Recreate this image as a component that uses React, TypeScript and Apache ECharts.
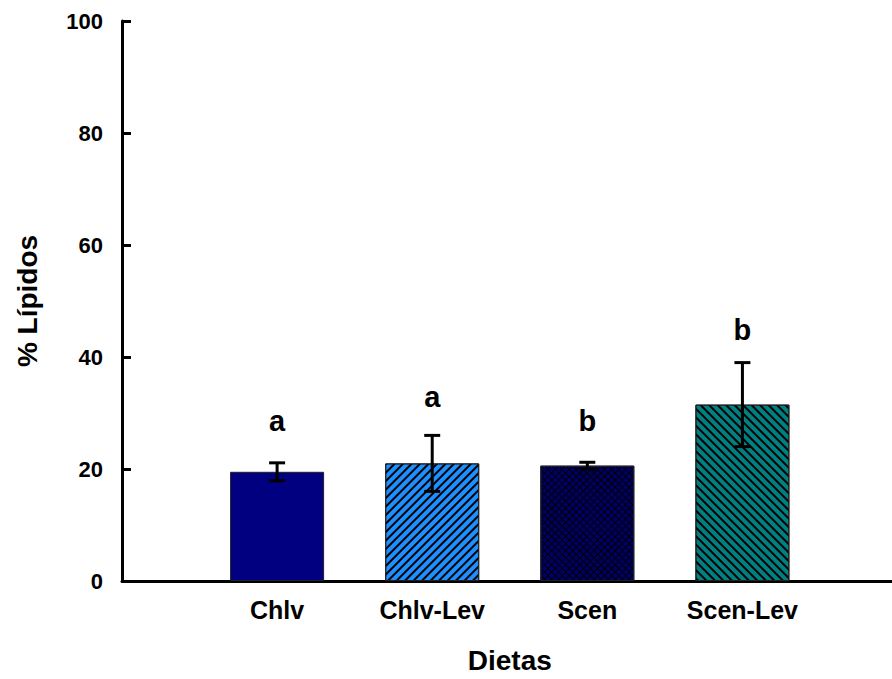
import React, { useEffect, useRef } from "react";
import * as echarts from "echarts";

const categories = ["Chlv", "Chlv-Lev", "Scen", "Scen-Lev"];
const means = [19.5, 21.0, 20.6, 31.5];
const errors = [1.6, 5.0, 0.6, 7.5];
const letters = ["a", "a", "b", "b"];
const letterValues = [28.6, 32.9, 28.5, 44.9];
const yTicks = [0, 20, 40, 60, 80, 100];

const FONT = "'Liberation Sans', Arial, sans-serif";

export default function App() {
  const ref = useRef<HTMLDivElement>(null);
  useEffect(() => {
    if (!ref.current) return;
    const chart = echarts.init(ref.current, undefined, { renderer: "svg" });
    const xData = ["", ...categories, " "];
    const styles = [
      { color: "#000080" },
      {
        color: "#1E8FFF",
        decal: {
          symbol: "rect",
          symbolSize: 1,
          dashArrayX: [1, 0],
          dashArrayY: [1.6, 3.4],
          rotation: -Math.PI / 4,
          color: "#000",
        },
      },
      {
        color: "#000",
        decal: {
          symbol: "rect",
          symbolSize: 1,
          dashArrayX: [4, 1],
          dashArrayY: [4, 1],
          rotation: Math.PI / 4,
          color: "#000068",
        },
      },
      {
        color: "#008080",
        decal: {
          symbol: "rect",
          symbolSize: 1,
          dashArrayX: [1, 0],
          dashArrayY: [1.6, 3.4],
          rotation: Math.PI / 4,
          color: "#000",
        },
      },
    ];
    chart.setOption({
      animation: false,
      grid: { left: 122, right: 0, top: 21, bottom: 94, containLabel: false },
      xAxis: {
        type: "category",
        data: xData,
        boundaryGap: false,
        name: "Dietas",
        nameLocation: "middle",
        nameGap: 65,
        nameTextStyle: { fontFamily: FONT, fontWeight: "bold", fontSize: 28, color: "#000" },
        axisLine: { lineStyle: { color: "#000", width: 3 } },
        axisTick: { show: false },
        axisLabel: {
          fontFamily: FONT,
          fontWeight: "bold",
          fontSize: 25,
          color: "#000",
          margin: 16,
          interval: 0,
        },
        splitLine: { show: false },
      },
      yAxis: {
        type: "value",
        min: yTicks[0],
        max: yTicks[yTicks.length - 1],
        interval: 20,
        name: "% Lípidos",
        nameLocation: "middle",
        nameGap: 81,
        nameTextStyle: { fontFamily: FONT, fontWeight: "bold", fontSize: 28, color: "#000" },
        axisLine: { show: true, lineStyle: { color: "#000", width: 3 } },
        axisTick: { show: true, inside: true, length: 9, lineStyle: { color: "#000", width: 3 } },
        axisLabel: { fontFamily: FONT, fontWeight: "bold", fontSize: 22, color: "#000", margin: 19 },
        splitLine: { show: false },
      },
      series: [
        {
          type: "bar",
          barWidth: 94,
          data: categories.map((c, i) => ({
            value: [c, means[i]],
            itemStyle: { ...styles[i], borderColor: "#222", borderWidth: 1 },
          })),
          z: 2,
        },
        {
          type: "custom",
          z: 5,
          data: categories.map((c, i) => [c, means[i] - errors[i], means[i] + errors[i], letterValues[i], i]),
          renderItem: (params: any, api: any) => {
            const lo = api.coord([api.value(0), api.value(1)]);
            const hi = api.coord([api.value(0), api.value(2)]);
            const lp = api.coord([api.value(0), api.value(3)]);
            const letter = letters[api.value(4)];
            const hw = 8;
            const style = { stroke: "#000", lineWidth: 3 };
            return {
              type: "group",
              children: [
                { type: "line", shape: { x1: lo[0], y1: lo[1], x2: hi[0], y2: hi[1] }, style },
                { type: "line", shape: { x1: lo[0] - hw, y1: lo[1], x2: lo[0] + hw, y2: lo[1] }, style },
                { type: "line", shape: { x1: hi[0] - hw, y1: hi[1], x2: hi[0] + hw, y2: hi[1] }, style },
                {
                  type: "text",
                  x: lp[0],
                  y: lp[1],
                  style: {
                    text: letter,
                    fill: "#000",
                    font: `bold 29px ${FONT}`,
                    align: "center",
                    verticalAlign: "middle",
                  },
                },
              ],
            };
          },
        },
      ],
    });
    return () => chart.dispose();
  }, []);
  return (
    <div style={{ position: "absolute", left: 0, top: 0, width: 892, height: 679, overflow: "hidden", background: "#fff" }}>
      <div ref={ref} style={{ width: 904, height: 679 }} />
    </div>
  );
}
